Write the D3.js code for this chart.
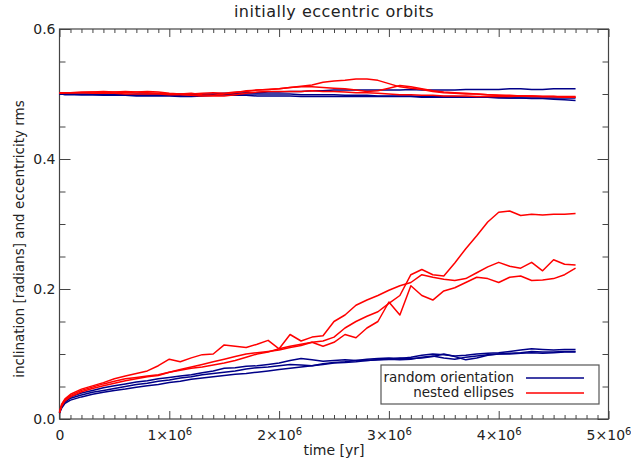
<!DOCTYPE html>
<html>
<head>
<meta charset="utf-8">
<script src="https://cdn.jsdelivr.net/npm/d3@7"></script>
<style>
  html, body { margin: 0; padding: 0; background: #fff; }
  svg { display: block; }
  text { font-family: "DejaVu Sans", sans-serif; fill: #222; }
</style>
</head>
<body>
<svg id="chart" width="631" height="459"></svg>
<script>
// ---- data (time in units of 1e6 yr) ----
const times = [0, 0.02, 0.05, 0.1, 0.2, 0.3, 0.4, 0.5, 0.6, 0.7, 0.8, 0.9, 1.0, 1.1, 1.2, 1.3, 1.4, 1.5, 1.6, 1.7, 1.8, 1.9, 2.0, 2.1, 2.2, 2.3, 2.4, 2.5, 2.6, 2.7, 2.8, 2.9, 3.0, 3.1, 3.2, 3.3, 3.4, 3.5, 3.6, 3.7, 3.8, 3.9, 4.0, 4.1, 4.2, 4.3, 4.4, 4.5, 4.6, 4.7];

// random orientation (blue): inclination rms
const randInc1 = [0.010,0.020,0.028,0.034,0.040,0.044,0.048,0.051,0.054,0.057,0.059,0.062,0.064,0.066,0.068,0.071,0.074,0.078,0.079,0.081,0.082,0.084,0.086,0.090,0.093,0.091,0.089,0.090,0.091,0.090,0.092,0.093,0.094,0.093,0.095,0.098,0.100,0.099,0.097,0.098,0.100,0.101,0.102,0.104,0.106,0.108,0.107,0.106,0.107,0.107];
const randInc2 = [0.010,0.019,0.026,0.032,0.037,0.041,0.044,0.047,0.050,0.053,0.055,0.058,0.060,0.063,0.065,0.068,0.070,0.072,0.074,0.077,0.079,0.080,0.082,0.084,0.083,0.082,0.085,0.087,0.088,0.090,0.090,0.091,0.092,0.094,0.093,0.094,0.096,0.100,0.096,0.091,0.094,0.098,0.100,0.101,0.102,0.104,0.103,0.103,0.104,0.104];
const randInc3 = [0.009,0.017,0.024,0.029,0.034,0.038,0.041,0.044,0.046,0.049,0.051,0.053,0.056,0.058,0.061,0.063,0.065,0.067,0.069,0.070,0.072,0.074,0.076,0.078,0.080,0.082,0.084,0.086,0.087,0.088,0.090,0.091,0.092,0.091,0.092,0.095,0.097,0.094,0.092,0.095,0.097,0.099,0.100,0.100,0.101,0.102,0.101,0.102,0.103,0.103];
// random orientation (blue): eccentricity rms
const randEcc1 = [0.500,0.500,0.500,0.500,0.500,0.500,0.500,0.499,0.499,0.500,0.500,0.500,0.500,0.500,0.500,0.500,0.500,0.501,0.501,0.502,0.502,0.503,0.503,0.504,0.504,0.505,0.505,0.506,0.506,0.506,0.506,0.506,0.506,0.506,0.507,0.506,0.506,0.506,0.506,0.507,0.507,0.507,0.507,0.508,0.508,0.507,0.507,0.508,0.508,0.508];
const randEcc2 = [0.500,0.500,0.499,0.499,0.499,0.499,0.498,0.498,0.498,0.498,0.498,0.498,0.498,0.498,0.499,0.499,0.499,0.499,0.498,0.498,0.497,0.497,0.497,0.497,0.496,0.496,0.496,0.496,0.496,0.496,0.496,0.496,0.496,0.496,0.496,0.495,0.495,0.495,0.495,0.495,0.495,0.495,0.495,0.494,0.494,0.494,0.494,0.494,0.494,0.494];
const randEcc3 = [0.500,0.500,0.500,0.500,0.499,0.499,0.499,0.498,0.498,0.497,0.497,0.497,0.497,0.496,0.496,0.497,0.498,0.499,0.500,0.500,0.500,0.500,0.500,0.500,0.499,0.499,0.499,0.499,0.498,0.498,0.498,0.497,0.497,0.497,0.497,0.496,0.496,0.496,0.496,0.495,0.495,0.495,0.494,0.494,0.494,0.493,0.493,0.492,0.491,0.490];

// nested ellipses (red): inclination rms
const nestInc1 = [0.010,0.022,0.030,0.036,0.044,0.049,0.054,0.058,0.062,0.064,0.066,0.068,0.072,0.075,0.078,0.080,0.083,0.086,0.090,0.095,0.100,0.103,0.108,0.112,0.115,0.118,0.120,0.126,0.140,0.150,0.158,0.165,0.178,0.190,0.222,0.230,0.222,0.220,0.240,0.262,0.282,0.303,0.318,0.320,0.313,0.315,0.314,0.315,0.315,0.316];
const nestInc2 = [0.010,0.023,0.031,0.038,0.046,0.051,0.056,0.062,0.066,0.070,0.074,0.082,0.092,0.088,0.094,0.099,0.100,0.114,0.112,0.110,0.115,0.121,0.108,0.130,0.120,0.126,0.128,0.150,0.160,0.175,0.183,0.190,0.198,0.205,0.210,0.222,0.218,0.215,0.213,0.216,0.225,0.234,0.241,0.235,0.232,0.241,0.228,0.245,0.238,0.237];
const nestInc3 = [0.010,0.020,0.028,0.034,0.042,0.047,0.051,0.055,0.059,0.062,0.065,0.067,0.072,0.076,0.080,0.084,0.088,0.092,0.096,0.100,0.102,0.104,0.106,0.110,0.113,0.118,0.112,0.118,0.130,0.125,0.140,0.150,0.180,0.160,0.205,0.190,0.183,0.197,0.202,0.210,0.218,0.216,0.210,0.218,0.220,0.213,0.214,0.216,0.222,0.232];
// nested ellipses (red): eccentricity rms
const nestEcc1 = [0.501,0.501,0.502,0.502,0.503,0.503,0.502,0.503,0.504,0.503,0.502,0.501,0.500,0.500,0.501,0.499,0.498,0.500,0.502,0.505,0.506,0.507,0.508,0.510,0.512,0.514,0.518,0.520,0.521,0.523,0.523,0.521,0.516,0.511,0.509,0.507,0.504,0.502,0.501,0.500,0.500,0.499,0.498,0.498,0.497,0.497,0.496,0.496,0.495,0.495];
const nestEcc2 = [0.501,0.501,0.502,0.502,0.502,0.503,0.504,0.503,0.502,0.503,0.504,0.503,0.501,0.500,0.500,0.501,0.502,0.501,0.503,0.504,0.506,0.507,0.508,0.510,0.511,0.511,0.510,0.509,0.508,0.506,0.504,0.505,0.509,0.513,0.511,0.508,0.505,0.503,0.502,0.501,0.500,0.499,0.498,0.497,0.497,0.497,0.496,0.496,0.495,0.495];
const nestEcc3 = [0.502,0.502,0.502,0.502,0.502,0.501,0.501,0.501,0.500,0.500,0.500,0.500,0.499,0.499,0.498,0.497,0.497,0.497,0.499,0.501,0.503,0.504,0.504,0.504,0.504,0.505,0.504,0.504,0.503,0.502,0.502,0.501,0.500,0.499,0.499,0.498,0.498,0.497,0.497,0.497,0.496,0.496,0.496,0.496,0.497,0.496,0.496,0.496,0.496,0.496];

const xMajor = [0, 1, 2, 3, 4, 5];          // x1e6 yr
const yMajor = [0.0, 0.2, 0.4, 0.6];
const seriesNames = ["random orientation", "nested ellipses"];
const titleText = "initially eccentric orbits";
const xTitle = "time [yr]";
const yTitle = "inclination [radians] and eccentricity rms";

// ---- layout ----
const L = 59.5, R = 608.5, T = 29, B = 419;
const colors = { rand: "#000088", nest: "#ff0000" };
const axisColor = "#444";

const svg = d3.select("#chart");
const x = d3.scaleLinear().domain([0, 5e6]).range([L, R]);
const y = d3.scaleLinear().domain([0, 0.6]).range([B, T]);

const xMinor = d3.range(0, 50.001, 1).map(d => d * 1e5).filter(d => d % 1e6 !== 0);
const yMinor = d3.range(0, 12.001, 1).map(d => d * 0.05).filter((d, i) => i % 4 !== 0);

function styleAxis(g) {
  g.select(".domain").remove();
  g.selectAll("line").attr("stroke", axisColor).attr("stroke-width", 1);
  g.selectAll("text").style("font-size", "14px").attr("fill", "#222");
}

// minor ticks
svg.append("g").attr("transform", `translate(0,${B})`)
  .call(d3.axisBottom(x).tickValues(xMinor).tickSize(-4).tickFormat("")).call(styleAxis);
svg.append("g").attr("transform", `translate(0,${T})`)
  .call(d3.axisTop(x).tickValues(xMinor).tickSize(-4).tickFormat("")).call(styleAxis);
svg.append("g").attr("transform", `translate(${L},0)`)
  .call(d3.axisLeft(y).tickValues(yMinor).tickSize(-6).tickFormat("")).call(styleAxis);
svg.append("g").attr("transform", `translate(${R},0)`)
  .call(d3.axisRight(y).tickValues(yMinor).tickSize(-6).tickFormat("")).call(styleAxis);

// major ticks
const xb = svg.append("g").attr("transform", `translate(0,${B})`)
  .call(d3.axisBottom(x).tickValues(xMajor.map(d => d * 1e6)).tickSize(-8).tickPadding(11)
    .tickFormat(d => d === 0 ? "0" : "")).call(styleAxis);
xb.selectAll(".tick text").each(function(d) {
  const v = d / 1e6;
  if (v === 0) return;
  const t = d3.select(this);
  t.text(null);
  t.append("tspan").text(v + "×10");
  t.append("tspan").attr("dy", "-0.45em").style("font-size", "10px").text("6");
});
svg.append("g").attr("transform", `translate(0,${T})`)
  .call(d3.axisTop(x).tickValues(xMajor.map(d => d * 1e6)).tickSize(-8).tickFormat("")).call(styleAxis);
svg.append("g").attr("transform", `translate(${L},0)`)
  .call(d3.axisLeft(y).tickValues(yMajor).tickSize(-11).tickPadding(4).tickFormat(d3.format(".1f"))).call(styleAxis);
svg.append("g").attr("transform", `translate(${R},0)`)
  .call(d3.axisRight(y).tickValues(yMajor).tickSize(-11).tickFormat("")).call(styleAxis);

// frame
svg.append("rect").attr("x", L).attr("y", T).attr("width", R - L).attr("height", B - T)
  .attr("fill", "none").attr("stroke", axisColor).attr("stroke-width", 1.2);

// series
const line = d3.line().x((d, i) => x(times[i] * 1e6)).y(d => y(d));
const plotG = svg.append("g");
const series = [
  { v: randEcc1, c: colors.rand }, { v: randEcc2, c: colors.rand }, { v: randEcc3, c: colors.rand },
  { v: nestEcc1, c: colors.nest }, { v: nestEcc2, c: colors.nest }, { v: nestEcc3, c: colors.nest },
  { v: randInc1, c: colors.rand }, { v: randInc2, c: colors.rand }, { v: randInc3, c: colors.rand },
  { v: nestInc1, c: colors.nest }, { v: nestInc2, c: colors.nest }, { v: nestInc3, c: colors.nest }
];
plotG.selectAll("path").data(series).enter().append("path")
  .attr("d", d => line(d.v)).attr("fill", "none")
  .attr("stroke", d => d.c).attr("stroke-width", 1.5).attr("stroke-linejoin", "round");

// legend
const lg = svg.append("g");
lg.append("rect").attr("x", 381).attr("y", 365).attr("width", 218).attr("height", 39)
  .attr("fill", "#fff").attr("stroke", "#555").attr("stroke-width", 1.2);
const legendColors = [colors.rand, colors.nest];
seriesNames.forEach((n, i) => {
  const yy = 377 + i * 15;
  lg.append("text").attr("x", 514).attr("y", yy).attr("dy", "0.35em")
    .attr("text-anchor", "end").style("font-size", "13.5px").text(n);
  lg.append("line").attr("x1", 526).attr("x2", 584).attr("y1", yy + 1).attr("y2", yy + 1)
    .attr("stroke", legendColors[i]).attr("stroke-width", 1.3);
});

// titles
svg.append("text").attr("x", (L + R) / 2).attr("y", 17).attr("text-anchor", "middle")
  .style("font-size", "16px").style("letter-spacing", "0.5px").text(titleText);
svg.append("text").attr("x", (L + R) / 2).attr("y", 455).attr("text-anchor", "middle")
  .style("font-size", "14px").text(xTitle);
svg.append("text").attr("transform", `translate(24,239) rotate(-90)`)
  .attr("text-anchor", "middle").style("font-size", "13.5px").text(yTitle);
</script>
</body>
</html>
